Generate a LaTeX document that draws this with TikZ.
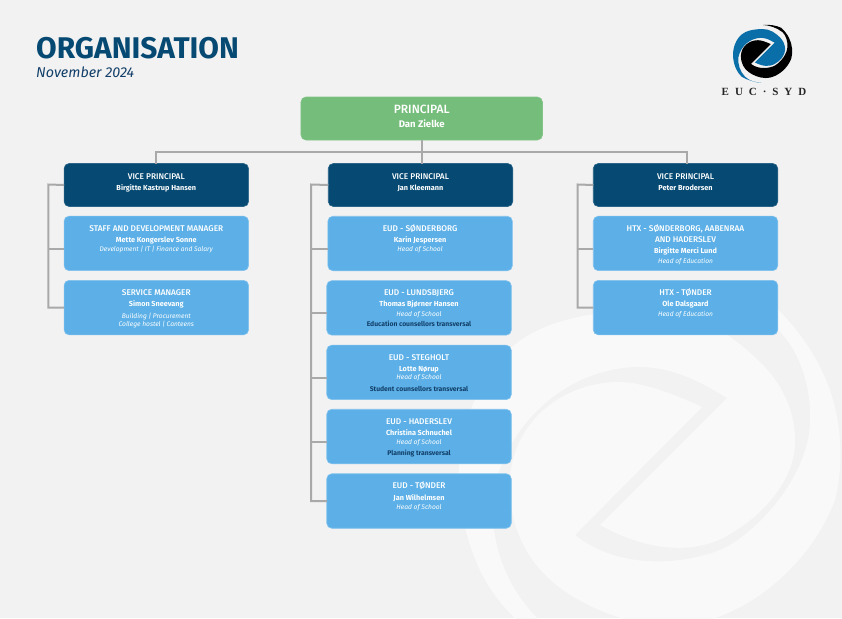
\documentclass[tikz,border=0pt]{standalone}
\usepackage{fontspec}
\setmainfont{Fira Sans}
\newfontfamily\medfont{Fira Sans Medium}
\newfontfamily\logofont[LetterSpace=54]{Liberation Serif}
\definecolor{pagebg}{HTML}{F2F2F2}
\definecolor{markfill}{HTML}{F9F9F9}
\definecolor{navy}{HTML}{064A73}
\definecolor{sky}{HTML}{5CB0E7}
\definecolor{skyedge}{HTML}{80C2EE}
\definecolor{leaf}{HTML}{75BD7A}
\definecolor{wire}{HTML}{A9A9A9}
\definecolor{logoblue}{HTML}{0A6FA8}
\definecolor{ink}{HTML}{123F69}

% One line of a card: baseline offset from the card's top edge, then the content
\newdimen\cardw
\newcommand\txtline[2]{\vbox to 0pt{\vskip #1pt\hbox to \cardw{\hss\smash{#2}\hss}\vss}\nointerlineskip}
\newcommand\cardtext[3]{\cardw=#1pt\vbox to #2pt{\offinterlineskip #3\vss}}
\newcommand\hd[1]{{\fontsize{8.3}{9}\medfont #1}}
\newcommand\nm[1]{{\fontsize{7.3}{8}\selectfont\bfseries #1}}
\newcommand\rl[1]{{\fontsize{6.65}{8}\selectfont\itshape #1}}
\newcommand\xv[1]{{\fontsize{6.8}{8}\selectfont\color{ink}\bfseries #1}}

% Logo outlines: the ring with its inner wedge, and the crescent with its wedge
\newcommand\ringshape{(727,398) .. controls (690,375) and (665,367) .. (639,367)
  .. controls (575,367) and (510,415) .. (494,490)
  .. controls (488,540) and (505,585) .. (537,618)
  .. controls (565,645) and (605,655) .. (644,658)
  .. controls (600,652) and (550,640) .. (515,618)
  .. controls (485,590) and (465,550) .. (459,490)
  .. controls (455,430) and (480,375) .. (512,347)
  .. controls (540,322) and (590,310) .. (650,310)
  .. controls (695,310) and (730,332) .. (763,365)
  .. controls (785,388) and (796,415) .. (795,445)
  .. controls (793,480) and (765,515) .. (725,537)
  .. controls (695,553) and (650,553) .. (600,525) -- cycle}
\newcommand\crescentshape{(702,407) .. controls (670,392) and (640,382) .. (619,382)
  .. controls (560,382) and (512,425) .. (510,480)
  .. controls (508,530) and (530,565) .. (559,587)
  .. controls (585,607) and (630,626) .. (670,626)
  .. controls (690,626) and (705,622) .. (715,618)
  .. controls (755,605) and (810,565) .. (835,500)
  .. controls (845,460) and (842,410) .. (820,367)
  .. controls (808,343) and (790,320) .. (770,302)
  .. controls (735,285) and (690,280) .. (652,284)
  .. controls (690,285) and (740,300) .. (778,330)
  .. controls (800,350) and (812,390) .. (810,423)
  .. controls (808,470) and (770,520) .. (730,545)
  .. controls (700,562) and (625,575) .. (575,535) -- cycle}

\tikzset{
  card/.style={inner sep=0pt,outer sep=0pt,rounded corners=5pt,text=white,line width=.6pt},
  headbox/.style={card,fill=leaf,draw=leaf!90!white},
  vicebox/.style={card,fill=navy,draw=navy!85!white},
  unitbox/.style={card,fill=sky,draw=skyedge},
  link/.style={draw=wire,line width=2pt,line cap=butt,line join=miter}
}

\begin{document}
\begin{tikzpicture}[x=1pt,y=-1pt]
\useasboundingbox (0,0) rectangle (842,618);
\fill[pagebg] (0,0) rectangle (842,618);

% Pale watermark in the lower right corner
\begin{scope}
  \clip (0,0) rectangle (842,618);
  \fill[markfill] \ringshape;
  \fill[markfill] \crescentshape;
\end{scope}

% Title block
\node[anchor=base west,inner sep=0pt,text=navy,font=\fontsize{29.9}{32}\selectfont\bfseries] (title) at (36,58.6) {ORGANISATION};
\node[anchor=base west,inner sep=0pt,text=ink,font=\fontsize{14.3}{16}\selectfont\itshape] (subtitle) at (36,77) {November 2024};

% Logo
\begin{scope}[shift={(661.9,-19)},scale=.155]
  \fill[logoblue] \ringshape;
  \fill[black] \crescentshape;
\end{scope}
\node[inner sep=0pt,text=black!85,font=\logofont\fontsize{11}{12}\selectfont\bfseries] (logotext) at (764,92.3) {EUC·SYD};

% Principal
\node[headbox] (principal) at (421.7,118.5) {\cardtext{241.5}{43}{%
  \txtline{16.2}{{\fontsize{12}{13}\medfont PRINCIPAL}}%
  \txtline{30.4}{{\fontsize{9.6}{10}\selectfont\bfseries Dan Zielke}}}};

% Vice principals
\node[vicebox] (vp1) at (156.3,185) {\cardtext{184.5}{43}{\txtline{15.8}{\hd{VICE PRINCIPAL}}\txtline{26.9}{\nm{Birgitte Kastrup Hansen}}}};
\node[vicebox] (vp2) at (420.5,185) {\cardtext{184.5}{43}{\txtline{15.8}{\hd{VICE PRINCIPAL}}\txtline{26.9}{\nm{Jan Kleemann}}}};
\node[vicebox] (vp3) at (685.5,185) {\cardtext{184.5}{43}{\txtline{15.8}{\hd{VICE PRINCIPAL}}\txtline{26.9}{\nm{Peter Brodersen}}}};

% Left column
\node[unitbox] (staff) at (156.3,243.4) {\cardtext{184.5}{54.5}{\txtline{15}{\hd{STAFF AND DEVELOPMENT MANAGER}}\txtline{25.9}{\nm{Mette Kongerslev Sonne}}\txtline{35.8}{\rl{Development | IT | Finance and Salary}}}};
\node[unitbox] (service) at (156.3,307.6) {\cardtext{184.5}{54.5}{\txtline{15}{\hd{SERVICE MANAGER}}\txtline{25.9}{\nm{Simon Sneevang}}\txtline{38}{\rl{Building | Procurement}}\txtline{46}{\rl{College hostel | Canteens}}}};

% Middle column
\node[unitbox] (sonderborg) at (420.1,243.5) {\cardtext{184.5}{54.5}{\txtline{15}{\hd{EUD - SØNDERBORG}}\txtline{25.9}{\nm{Karin Jespersen}}\txtline{35.7}{\rl{Head of School}}}};
\node[unitbox] (lundsbjerg) at (419,307.9) {\cardtext{184.5}{54.5}{\txtline{15.3}{\hd{EUD - LUNDSBJERG}}\txtline{26.3}{\nm{Thomas Bjørner Hansen}}\txtline{35.7}{\rl{Head of School}}\txtline{46.3}{\xv{Education counsellors transversal}}}};
\node[unitbox] (stegholt) at (419,372.4) {\cardtext{184.5}{54.5}{\txtline{15}{\hd{EUD - STEGHOLT}}\txtline{26.3}{\nm{Lotte Nørup}}\txtline{34.7}{\rl{Head of School}}\txtline{46.3}{\xv{Student counsellors transversal}}}};
\node[unitbox] (haderslev) at (419,436.5) {\cardtext{184.5}{54.5}{\txtline{15}{\hd{EUD - HADERSLEV}}\txtline{26.3}{\nm{Christina Schnuchel}}\txtline{35.7}{\rl{Head of School}}\txtline{46.3}{\xv{Planning transversal}}}};
\node[unitbox] (tonder) at (419,501) {\cardtext{184.5}{54.5}{\txtline{15}{\hd{EUD - TØNDER}}\txtline{26.3}{\nm{Jan Wilhelmsen}}\txtline{35.7}{\rl{Head of School}}}};

% Right column
\node[unitbox] (htxa) at (685.5,243.4) {\cardtext{184.5}{54.5}{\txtline{15}{\hd{HTX - SØNDERBORG, AABENRAA}}\txtline{26}{\hd{AND HADERSLEV}}\txtline{36.9}{\nm{Birgitte Merci Lund}}\txtline{47}{\rl{Head of Education}}}};
\node[unitbox] (htxb) at (685.5,307.6) {\cardtext{184.5}{54.5}{\txtline{15}{\hd{HTX - TØNDER}}\txtline{25.9}{\nm{Ole Dalsgaard}}\txtline{35.7}{\rl{Head of Education}}}};

% Spines that carry the branches of each column
\coordinate (busy) at (421,152.3);
\coordinate (spinea) at (48.3,184.5);
\coordinate (spineb) at (311,184.5);
\coordinate (spinec) at (577.7,184.5);

% Principal to the vice principals
\draw[link] (principal.south) -- (principal.south |- vp2.north);
\draw[link] (vp1.north) -- (vp1.north |- busy) -- ([xshift=1.2pt]vp3.north |- busy) -- ([xshift=1.2pt]vp3.north);

% Left column connectors
\draw[link] (vp1.west) -- (spinea) -- (spinea |- service.west) -- (service.west);
\draw[link] (spinea |- staff.west) ++(0,5.3) -- ([yshift=-5.3pt]staff.west);

% Middle column connectors
\draw[link] (vp2.west) -- (spineb) -- (spineb |- tonder.west) -- (tonder.west);
\draw[link] (spineb |- sonderborg.west) ++(0,5.3) -- ([yshift=-5.3pt]sonderborg.west);
\draw[link] (spineb |- lundsbjerg.west) ++(0,4.8) -- ([yshift=-4.8pt]lundsbjerg.west);
\draw[link] (spineb |- stegholt.west) ++(0,5.3) -- ([yshift=-5.3pt]stegholt.west);
\draw[link] (spineb |- haderslev.west) ++(0,5.5) -- ([yshift=-5.5pt]haderslev.west);

% Right column connectors
\draw[link] (vp3.west) -- (spinec) -- (spinec |- htxb.west) -- (htxb.west);
\draw[link] (spinec |- htxa.west) ++(0,5.3) -- ([yshift=-5.3pt]htxa.west);
\end{tikzpicture}
\end{document}
